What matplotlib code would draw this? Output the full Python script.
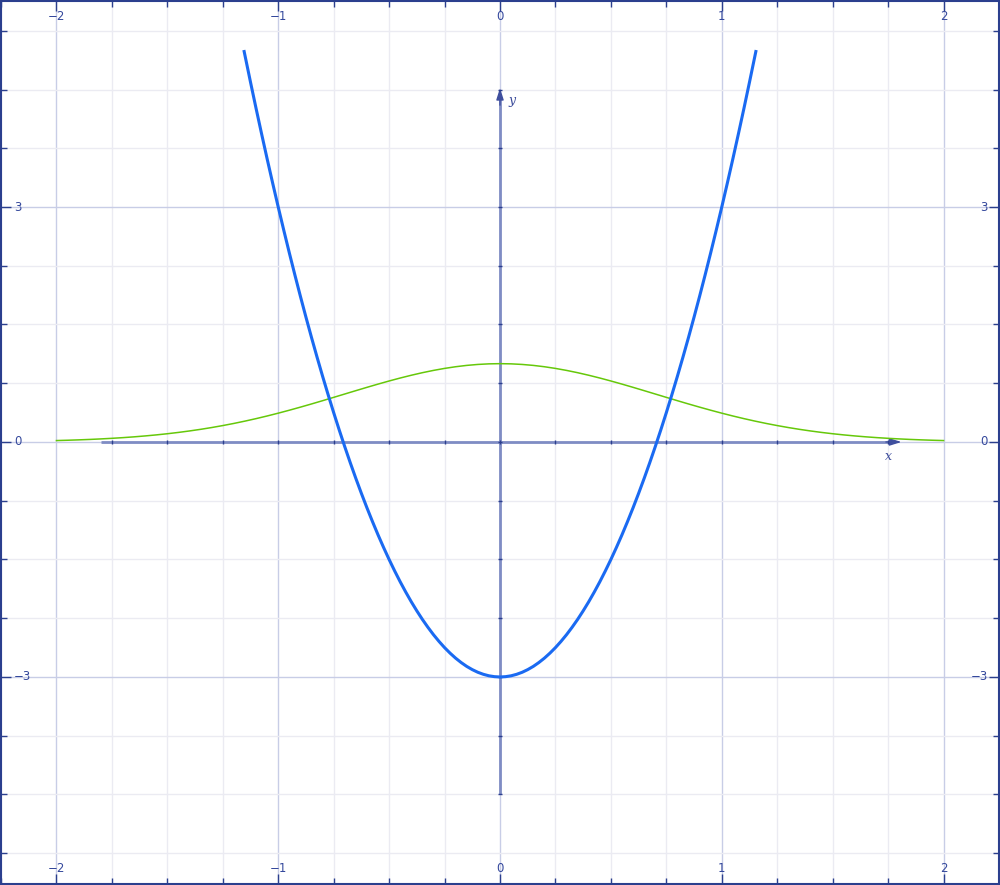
import numpy as np
import matplotlib
matplotlib.use("Agg")
import matplotlib.pyplot as plt

# values
parab_x = [-1.155, -1.125, -1.100, -1.075, -1.050, -1.025, -1.000, -0.975, -0.950, -0.925,
           -0.900, -0.875, -0.850, -0.825, -0.800, -0.775, -0.750, -0.725, -0.700, -0.675,
           -0.650, -0.625, -0.600, -0.575, -0.550, -0.525, -0.500, -0.475, -0.450, -0.425,
           -0.400, -0.375, -0.350, -0.325, -0.300, -0.275, -0.250, -0.225, -0.200, -0.175,
           -0.150, -0.125, -0.100, -0.075, -0.050, -0.025, 0.000,
           0.025, 0.050, 0.075, 0.100, 0.125, 0.150, 0.175, 0.200, 0.225, 0.250,
           0.275, 0.300, 0.325, 0.350, 0.375, 0.400, 0.425, 0.450, 0.475, 0.500,
           0.525, 0.550, 0.575, 0.600, 0.625, 0.650, 0.675, 0.700, 0.725, 0.750,
           0.775, 0.800, 0.825, 0.850, 0.875, 0.900, 0.925, 0.950, 0.975, 1.000,
           1.025, 1.050, 1.075, 1.100, 1.125, 1.155]
parab_y = [5.004, 4.594, 4.260, 3.934, 3.615, 3.304, 3.000, 2.704, 2.415, 2.134,
           1.860, 1.594, 1.335, 1.084, 0.840, 0.604, 0.375, 0.154, -0.060, -0.266,
           -0.465, -0.656, -0.840, -1.016, -1.185, -1.346, -1.500, -1.646, -1.785, -1.916,
           -2.040, -2.156, -2.265, -2.366, -2.460, -2.546, -2.625, -2.696, -2.760, -2.816,
           -2.865, -2.906, -2.940, -2.966, -2.985, -2.996, -3.000,
           -2.996, -2.985, -2.966, -2.940, -2.906, -2.865, -2.816, -2.760, -2.696, -2.625,
           -2.546, -2.460, -2.366, -2.265, -2.156, -2.040, -1.916, -1.785, -1.646, -1.500,
           -1.346, -1.185, -1.016, -0.840, -0.656, -0.465, -0.266, -0.060, 0.154, 0.375,
           0.604, 0.840, 1.084, 1.335, 1.594, 1.860, 2.134, 2.415, 2.704, 3.000,
           3.304, 3.615, 3.934, 4.260, 4.594, 5.004]

bell_x = [-2.00, -1.95, -1.90, -1.85, -1.80, -1.75, -1.70, -1.65, -1.60, -1.55,
          -1.50, -1.45, -1.40, -1.35, -1.30, -1.25, -1.20, -1.15, -1.10, -1.05,
          -1.00, -0.95, -0.90, -0.85, -0.80, -0.75, -0.70, -0.65, -0.60, -0.55,
          -0.50, -0.45, -0.40, -0.35, -0.30, -0.25, -0.20, -0.15, -0.10, -0.05, 0.00,
          0.05, 0.10, 0.15, 0.20, 0.25, 0.30, 0.35, 0.40, 0.45, 0.50,
          0.55, 0.60, 0.65, 0.70, 0.75, 0.80, 0.85, 0.90, 0.95, 1.00,
          1.05, 1.10, 1.15, 1.20, 1.25, 1.30, 1.35, 1.40, 1.45, 1.50,
          1.55, 1.60, 1.65, 1.70, 1.75, 1.80, 1.85, 1.90, 1.95, 2.00]
bell_y = [0.0183, 0.0223, 0.0271, 0.0326, 0.0392, 0.0468, 0.0556, 0.0657, 0.0773, 0.0905,
          0.1054, 0.1221, 0.1409, 0.1616, 0.1845, 0.2096, 0.2369, 0.2665, 0.2982, 0.3320,
          0.3679, 0.4056, 0.4449, 0.4855, 0.5273, 0.5698, 0.6126, 0.6554, 0.6977, 0.7390,
          0.7788, 0.8167, 0.8521, 0.8847, 0.9139, 0.9394, 0.9608, 0.9778, 0.9900, 0.9975, 1.0000,
          0.9975, 0.9900, 0.9778, 0.9608, 0.9394, 0.9139, 0.8847, 0.8521, 0.8167, 0.7788,
          0.7390, 0.6977, 0.6554, 0.6126, 0.5698, 0.5273, 0.4855, 0.4449, 0.4056, 0.3679,
          0.3320, 0.2982, 0.2665, 0.2369, 0.2096, 0.1845, 0.1616, 0.1409, 0.1221, 0.1054,
          0.0905, 0.0773, 0.0657, 0.0556, 0.0468, 0.0392, 0.0326, 0.0271, 0.0223, 0.0183]

x_major = [-2, -1, 0, 1, 2]
y_major = [-3, 0, 3]
x_labels = ["\u22122", "\u22121", "0", "1", "2"]
y_labels = ["\u22123", "0", "3"]

frame_col = "#2b3f8e"
text_col = "#34489c"

fig = plt.figure(figsize=(10, 8.85), dpi=100)
ax = fig.add_axes([0.001, 1 / 885, 0.998, 883 / 885])
ax.set_xlim(-2.248, 2.248)
ax.set_ylim(-5.643, 5.63)

ax.set_xticks(x_major)
ax.set_xticks(np.arange(-2.25, 2.26, 0.25), minor=True)
ax.set_yticks(y_major)
ax.set_yticks(np.arange(-5.25, 5.26, 0.75), minor=True)
ax.tick_params(which="both", direction="in", top=True, right=True,
               labelbottom=False, labelleft=False, color=frame_col, width=1.0)
ax.tick_params(which="major", length=7)
ax.tick_params(which="minor", length=4)
ax.grid(which="major", color="#c8cde6", lw=1)
ax.grid(which="minor", color="#ebebf2", lw=1)
ax.set_axisbelow(True)
for sp in ax.spines.values():
    sp.set_color(frame_col)
    sp.set_linewidth(1.5)

xt = ax.get_xaxis_transform()
yt = ax.get_yaxis_transform()
for v, s in zip(x_major, x_labels):
    ax.text(v, 0.983, s, transform=xt, ha="center", va="center", fontsize=8.5, color=text_col)
    ax.text(v, 0.018, s, transform=xt, ha="center", va="center", fontsize=8.5, color=text_col)
for v, s in zip(y_major, y_labels):
    ax.text(0.013, v, s, transform=yt, ha="left", va="center", fontsize=8.5, color=text_col)
    ax.text(0.989, v, s, transform=yt, ha="right", va="center", fontsize=8.5, color=text_col)

# inner axes with arrows
axis_col = "#7f8cc4"
head_col = "#3f4f9e"
ax.plot([-1.8, 1.77], [0, 0], color=axis_col, lw=2, zorder=3, solid_capstyle="butt")
ax.plot([0, 0], [-4.5, 4.4], color=axis_col, lw=2, zorder=3, solid_capstyle="butt")
ax.annotate("", xy=(1.81, 0), xytext=(1.74, 0),
            arrowprops=dict(arrowstyle="-|>,head_length=0.7,head_width=0.22", color=head_col, lw=1,
                            shrinkA=0, shrinkB=0), zorder=4)
ax.annotate("", xy=(0, 4.52), xytext=(0, 4.3),
            arrowprops=dict(arrowstyle="-|>,head_length=0.7,head_width=0.22", color=head_col, lw=1,
                            shrinkA=0, shrinkB=0), zorder=4)
inner_xt = np.arange(-1.75, 1.76, 0.25)
inner_yt = np.arange(-4.5, 4.51, 0.75)
ax.plot(inner_xt, np.zeros_like(inner_xt), ls="none", marker="|", ms=3.5, mew=1, color=frame_col, zorder=4)
ax.plot(np.zeros_like(inner_yt), inner_yt, ls="none", marker="_", ms=3.5, mew=1, color=frame_col, zorder=4)
ax.text(0.04, 4.36, "y", fontsize=9, style="italic", family="DejaVu Serif", color="#3a4a9a", va="center")
ax.text(1.75, -0.18, "x", fontsize=9, style="italic", family="DejaVu Serif", color="#3a4a9a",
        ha="center", va="center")

ax.plot(bell_x, bell_y, color="#66c80a", lw=1.1, zorder=5)
ax.plot(parab_x, parab_y, color="#1a6af2", lw=2.2, zorder=6, solid_capstyle="butt")

fig.savefig("out.png", dpi=100)
